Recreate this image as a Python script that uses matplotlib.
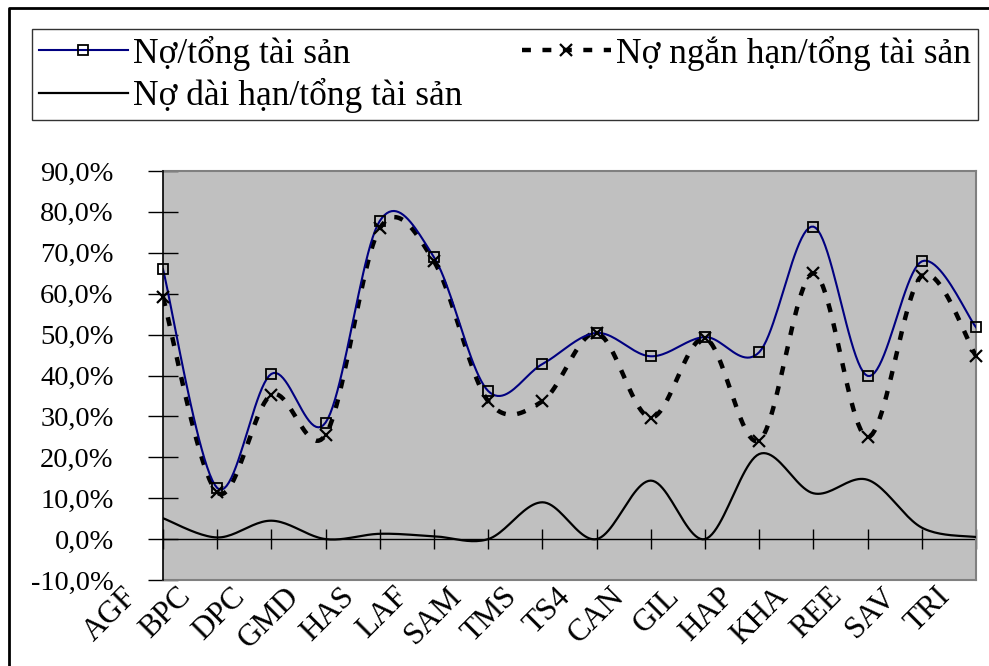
import numpy as np
import matplotlib
matplotlib.use('Agg')
import matplotlib.pyplot as plt
import matplotlib.transforms as mtransforms
from matplotlib.lines import Line2D
from matplotlib.ticker import FuncFormatter

plt.rcParams['font.family'] = ['Liberation Serif', 'DejaVu Serif']

# ---------------------------------------------------------------------------
# du lieu doc tu hinh
# ---------------------------------------------------------------------------
companies = ["AGF", "BPC", "DPC", "GMD", "HAS", "LAF", "SAM", "TMS",
             "TS4", "CAN", "GIL", "HAP", "KHA", "REE", "SAV", "TRI"]

no_tong = [66.0, 12.5, 40.4, 28.5, 77.8, 68.9, 36.2, 42.8,
           50.4, 44.7, 49.4, 45.7, 76.4, 39.9, 67.9, 51.8]
no_ngan_han = [59.1, 11.4, 35.3, 25.5, 76.0, 67.9, 33.7, 33.7,
               50.4, 29.7, 49.1, 24.1, 65.0, 24.9, 64.4, 44.8]
no_dai_han = [5.1, 0.4, 4.5, 0.0, 1.3, 0.7, 0.0, 9.0,
              0.0, 14.3, 0.0, 20.8, 11.2, 14.5, 2.8, 0.5]

y_ticks = [-10, 0, 10, 20, 30, 40, 50, 60, 70, 80, 90]

LABELS = ["Nợ/tổng tài sản", "Nợ dài hạn/tổng tài sản", "Nợ ngắn hạn/tổng tài sản"]


def smooth(xs, ys, n=24):
    # duong cong kieu Excel (Bezier / Catmull-Rom)
    p = np.column_stack([xs, ys]).astype(float)
    p = np.vstack([p[0], p, p[-1]])
    out = []
    for i in range(1, len(p) - 2):
        p0, p1, p2, p3 = p[i - 1], p[i], p[i + 1], p[i + 2]
        c1 = p1 + (p2 - p0) / 6.0
        c2 = p2 - (p3 - p1) / 6.0
        t = np.linspace(0, 1, n)[:, None]
        seg = ((1 - t) ** 3) * p1 + 3 * ((1 - t) ** 2) * t * c1 \
            + 3 * (1 - t) * t ** 2 * c2 + t ** 3 * p2
        out.append(seg if i == 1 else seg[1:])
    out = np.vstack(out)
    return out[:, 0], out[:, 1]


W, H = 989, 666
fig = plt.figure(figsize=(W / 100, H / 100), dpi=100)
fig.patch.set_facecolor('white')

ax = fig.add_axes([163 / W, 1 - 580 / H, (976 - 163) / W, (580 - 171) / H])
ax.set_facecolor('#C0C0C0')

x = np.arange(len(companies))

sx, sy = smooth(x, no_tong)
ax.plot(sx, sy, color='#000080', lw=1.5, zorder=4)
ax.plot(x, no_tong, ls='none', marker='s', ms=7.5, mfc='none', mec='black',
        mew=1.3, zorder=5, clip_on=False)

sx, sy = smooth(x, no_ngan_han)
ax.plot(sx, sy, color='black', lw=3.2, ls=(0, (2.0, 2.6)), zorder=3)
ax.plot(x, no_ngan_han, ls='none', marker='x', ms=9, mec='black', mew=1.6,
        zorder=5, clip_on=False)

sx, sy = smooth(x, no_dai_han)
ax.plot(sx, sy, color='black', lw=1.6, zorder=3)

# truc ngang o muc 0
ax.axhline(0, color='black', lw=1.0, zorder=2)
ax.plot(x, np.zeros(len(x)), ls='none', marker='|', ms=15, mew=1.0,
        color='black', zorder=2, clip_on=False)

ax.set_xlim(0, len(companies) - 1)
ax.set_ylim(-10, 90)

ax.set_yticks(y_ticks)
ax.yaxis.set_major_formatter(FuncFormatter(lambda v, p: f"{v:.1f}%".replace('.', ',')))
ax.tick_params(axis='y', direction='inout', length=21, width=1.0, pad=25,
               labelsize=20.5, colors='black')

ax.set_xticks(x)
ax.set_xticklabels(companies, rotation=45, ha='right', va='top', fontsize=22.5)
ax.tick_params(axis='x', length=0, pad=0)
shift = mtransforms.ScaledTranslation(-20 / 100, -2 / 100, fig.dpi_scale_trans)
for lab in ax.get_xticklabels():
    lab.set_transform(lab.get_transform() + shift)

for side in ['top', 'right', 'bottom']:
    ax.spines[side].set_color('#808080')
    ax.spines[side].set_linewidth(1.5)
ax.spines['left'].set_color('black')
ax.spines['left'].set_linewidth(1.2)
ax.spines['left'].set_zorder(6)

# chu thich
handles = [
    Line2D([], [], color='#000080', lw=1.5, marker='s', ms=7.5, mfc='none',
           mec='black', mew=1.3),
    Line2D([], [], color='black', lw=1.6),
    Line2D([], [], color='black', lw=3.2, ls=(0, (2.0, 2.6)), marker='x',
           ms=9, mec='black', mew=1.6),
]
leg = fig.legend(handles, LABELS, ncol=2, mode='expand',
                 bbox_to_anchor=(32 / W, 1 - 120 / H, (978 - 32) / W, (120 - 15) / H),
                 loc='lower left', fontsize=25.5, frameon=True, fancybox=False,
                 edgecolor='black', handlelength=2.5, handletextpad=0.15,
                 borderpad=0.2, labelspacing=0.2, borderaxespad=0,
                 columnspacing=1.0)
leg.get_frame().set_linewidth(1.0)

# khung ngoai: chi thay canh trai va canh tren
fig.lines.append(Line2D([9 / W, 9 / W, 1.0], [0.0, 1 - 8 / H, 1 - 8 / H],
                        transform=fig.transFigure, color='black', lw=2.0))

fig.savefig('out.png', dpi=100)
